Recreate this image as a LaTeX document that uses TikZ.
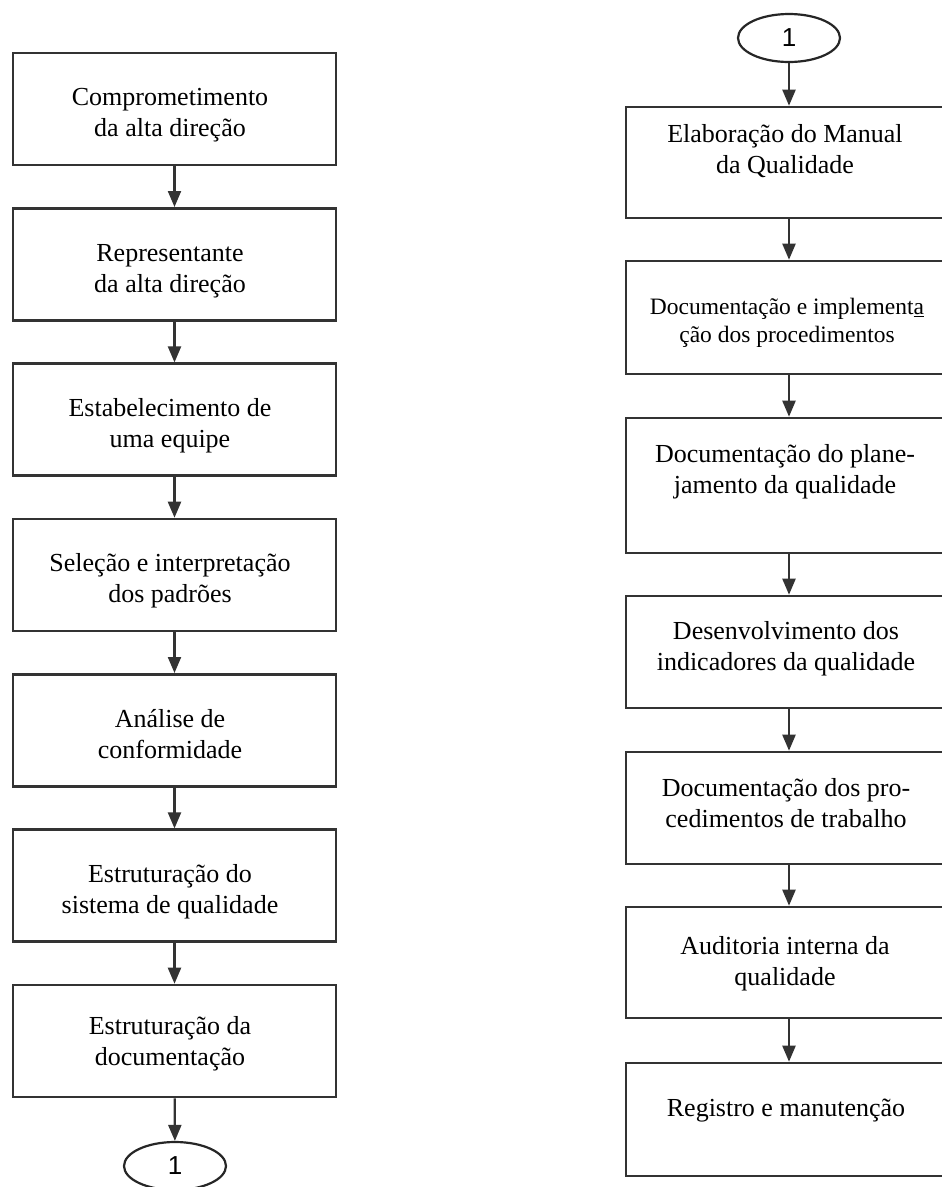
\documentclass[tikz,border=0pt]{standalone}
\usepackage{fontspec}
\setmainfont{Liberation Serif}
\setsansfont{Liberation Sans}
\usetikzlibrary{arrows.meta,shapes.geometric}

\begin{document}
\begin{tikzpicture}[x=1pt,y=-1pt,
  stepbox/.style={draw=black!80, line width=2.6pt, inner sep=0pt, minimum width=#1},
  stepbox/.default=323pt,
  lbl/.style={font=\fontsize{26}{31}\selectfont, align=center, inner sep=0pt, anchor=north},
  smalllbl/.style={font=\fontsize{23.5}{28}\selectfont, align=center, inner sep=0pt, anchor=north},
  conn/.style={draw=black!85, line width=2.2pt, inner sep=0pt, ellipse,
               minimum width=102pt, minimum height=48pt, font=\sffamily\fontsize{26}{30}\selectfont},
  arr/.style={draw=black!80, line width=2.2pt, -{Triangle[length=16pt,width=13pt]}}]

\useasboundingbox (0,0) rectangle (942,1187);
\fill[white] (0,0) rectangle (942,1187);

% ---- left column ----
\node[stepbox, minimum height=112pt] (L1) at (174.5,109) {};
\node[stepbox, minimum height=112pt] (L2) at (174.5,264.3) {};
\node[stepbox, minimum height=112pt] (L3) at (174.5,419.7) {};
\node[stepbox, minimum height=112pt] (L4) at (174.5,575) {};
\node[stepbox, minimum height=112pt] (L5) at (174.5,730.3) {};
\node[stepbox, minimum height=112pt] (L6) at (174.5,885.7) {};
\node[stepbox, minimum height=112pt] (L7) at (174.5,1041) {};
\node[conn] (C1) at (175,1166) {1};

\node[lbl] (L1t) at (170,84) {\strut Comprometimento\\da alta direção};
\node[lbl] (L2t) at (170,239.3) {\strut Representante\\da alta direção};
\node[lbl] (L3t) at (170,394.7) {\strut Estabelecimento de\\uma equipe};
\node[lbl] (L4t) at (170,550) {\strut Seleção e interpretação\\dos padrões};
\node[lbl] (L5t) at (170,705.3) {\strut Análise de\\conformidade};
\node[lbl] (L6t) at (170,860.7) {\strut Estruturação do\\sistema de qualidade};
\node[lbl] (L7t) at (170,1013) {\strut Estruturação da\\documentação};

\draw[arr] (L1) -- (L2);
\draw[arr] (L2) -- (L3);
\draw[arr] (L3) -- (L4);
\draw[arr] (L4) -- (L5);
\draw[arr] (L5) -- (L6);
\draw[arr] (L6) -- (L7);
\draw[arr] (L7) -- (C1);

% ---- right column ----
\node[conn] (C2) at (789,38) {1};
\node[stepbox=326pt, minimum height=111pt] (R1) at (789,162.5) {};
\node[stepbox=326pt, minimum height=113pt] (R2) at (789,317.5) {};
\node[stepbox=326pt, minimum height=135pt] (R3) at (789,485.5) {};
\node[stepbox=326pt, minimum height=112pt] (R4) at (789,652) {};
\node[stepbox=326pt, minimum height=112pt] (R5) at (789,808) {};
\node[stepbox=326pt, minimum height=111pt] (R6) at (789,962.5) {};
\node[stepbox=326pt, minimum height=113pt] (R7) at (789,1119.5) {};

\node[lbl] (R1t) at (785,121) {\strut Elaboração do Manual\\da Qualidade};
\node[smalllbl] (R2t) at (787,294.5) {\strut Documentação e implement\underline{a}\\ção dos procedimentos};
\node[lbl] (R3t) at (785,441) {\strut Documentação do plane-\\jamento da qualidade};
\node[lbl] (R4t) at (786,618) {\strut Desenvolvimento dos\\indicadores da qualidade};
\node[lbl] (R5t) at (786,775) {\strut Documentação dos pro-\\cedimentos de trabalho};
\node[lbl] (R6t) at (785,933) {\strut Auditoria interna da\\qualidade};
\node[lbl] (R7t) at (786,1095) {\strut Registro e manutenção};

\draw[arr] (C2) -- (R1);
\draw[arr] (R1) -- (R2);
\draw[arr] (R2) -- (R3);
\draw[arr] (R3) -- (R4);
\draw[arr] (R4) -- (R5);
\draw[arr] (R5) -- (R6);
\draw[arr] (R6) -- (R7);

\end{tikzpicture}
\end{document}
